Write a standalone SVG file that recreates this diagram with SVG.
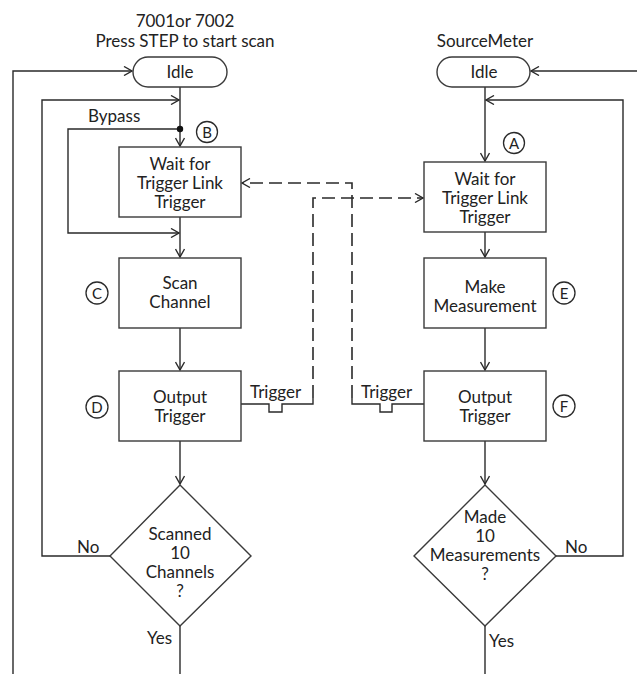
<svg xmlns="http://www.w3.org/2000/svg" width="637" height="674" viewBox="0 0 637 674">
<style>
.bg{fill:#ffffff}
.shape{fill:#ffffff;stroke:#3a3a3a;stroke-width:1.4}
.ln{fill:none;stroke:#2a2a2a;stroke-width:1.4}
.dash{fill:none;stroke:#2a2a2a;stroke-width:1.6;stroke-dasharray:13 6}
.t{font-family:Lato,"Open Sans","Liberation Sans",sans-serif;font-size:17px;fill:#222;text-anchor:middle}
.s{font-family:Lato,"Open Sans","Liberation Sans",sans-serif;font-size:17px;fill:#222}
.c{fill:#ffffff;stroke:#2a2a2a;stroke-width:1.3}
.cl{font-family:Lato,"Open Sans","Liberation Sans",sans-serif;font-size:15px;fill:#222;text-anchor:middle}
</style>
<defs>
<marker id="ar" viewBox="0 0 10 10" markerWidth="10" markerHeight="10" refX="9" refY="5" orient="auto" markerUnits="userSpaceOnUse">
<path d="M1,0.5 L9,5 L1,9.5" fill="none" stroke="#2a2a2a" stroke-width="1.4"/>
</marker>
</defs>
<rect class="bg" x="0" y="0" width="637" height="674"/>

<g id="connectors">
<path class="ln" d="M13,674 V71 H132" marker-end="url(#ar)"/>
<path class="ln" d="M180,87 V146" marker-end="url(#ar)"/>
<path class="ln" d="M110,556 H42 V100 H179" marker-end="url(#ar)"/>
<path class="ln" d="M180,129 H68 V233 H179" marker-end="url(#ar)"/>
<circle cx="180" cy="129" r="3.2" fill="#111"/>
<path class="ln" d="M180,217 V257" marker-end="url(#ar)"/>
<path class="ln" d="M180,328 V370" marker-end="url(#ar)"/>
<path class="ln" d="M180,441 V484" marker-end="url(#ar)"/>
<path class="ln" d="M180,626 V674"/>
<path class="ln" d="M637,71 H531" marker-end="url(#ar)"/>
<path class="ln" d="M485,87 V161" marker-end="url(#ar)"/>
<path class="ln" d="M556,556 H623 V100 H486" marker-end="url(#ar)"/>
<path class="ln" d="M485,232 V257" marker-end="url(#ar)"/>
<path class="ln" d="M485,328 V370" marker-end="url(#ar)"/>
<path class="ln" d="M485,441 V484" marker-end="url(#ar)"/>
<path class="ln" d="M485,626 V674"/>
<path class="ln" d="M241,404 H269 V412 H282 V404 H313 V398"/>
<path class="dash" d="M313,398 V198 H423" marker-end="url(#ar)"/>
<path class="ln" d="M424,404 H392 V412 H380 V404 H352 V398"/>
<path class="dash" d="M352,398 V183 H242" marker-end="url(#ar)"/>
<text class="s" x="250" y="398">Trigger</text>
<text class="s" x="361" y="398">Trigger</text>
</g>

<g id="title-left">
<text class="t" x="185" y="27">7001or 7002</text>
<text class="t" x="185" y="47">Press STEP to start scan</text>
</g>
<g id="title-right">
<text class="t" x="485" y="47">SourceMeter</text>
</g>

<g id="idle-left">
<rect class="shape" x="133" y="57" width="94" height="30" rx="15" ry="15"/>
<text class="t" x="180" y="78">Idle</text>
</g>
<g id="idle-right">
<rect class="shape" x="437" y="57" width="93" height="30" rx="15" ry="15"/>
<text class="t" x="484" y="78">Idle</text>
</g>

<g id="label-bypass">
<text class="s" x="88" y="122">Bypass</text>
</g>

<g id="marker-b">
<circle class="c" cx="207" cy="132" r="10.5"/>
<text class="cl" x="207" y="137.5">B</text>
</g>
<g id="marker-a">
<circle class="c" cx="514" cy="143" r="10.5"/>
<text class="cl" x="514" y="148.5">A</text>
</g>
<g id="marker-c">
<circle class="c" cx="97" cy="293" r="11"/>
<text class="cl" x="97" y="298.5">C</text>
</g>
<g id="marker-d">
<circle class="c" cx="97" cy="407" r="11"/>
<text class="cl" x="97" y="412.5">D</text>
</g>
<g id="marker-e">
<circle class="c" cx="564" cy="293" r="11"/>
<text class="cl" x="564" y="298.5">E</text>
</g>
<g id="marker-f">
<circle class="c" cx="564" cy="406" r="11"/>
<text class="cl" x="564" y="411.5">F</text>
</g>

<g id="wait-left">
<rect class="shape" x="119" y="147" width="122" height="70"/>
<text class="t" x="180" y="170">Wait for</text>
<text class="t" x="180" y="189">Trigger Link</text>
<text class="t" x="180" y="208">Trigger</text>
</g>
<g id="scan-channel">
<rect class="shape" x="119" y="258" width="122" height="70"/>
<text class="t" x="180" y="289">Scan</text>
<text class="t" x="180" y="308">Channel</text>
</g>
<g id="output-left">
<rect class="shape" x="119" y="371" width="122" height="70"/>
<text class="t" x="180" y="403">Output</text>
<text class="t" x="180" y="422">Trigger</text>
</g>
<g id="decision-left">
<polygon class="shape" points="180,485 251,556 180,626 110,556"/>
<text class="t" x="180" y="540">Scanned</text>
<text class="t" x="180" y="559">10</text>
<text class="t" x="180" y="578">Channels</text>
<text class="t" x="180" y="597">?</text>
<text class="s" x="77" y="553">No</text>
<text class="s" x="147" y="644">Yes</text>
</g>

<g id="wait-right">
<rect class="shape" x="424" y="162" width="122" height="70"/>
<text class="t" x="485" y="185">Wait for</text>
<text class="t" x="485" y="204">Trigger Link</text>
<text class="t" x="485" y="223">Trigger</text>
</g>
<g id="make-measurement">
<rect class="shape" x="424" y="258" width="122" height="70"/>
<text class="t" x="485" y="293">Make</text>
<text class="t" x="485" y="312">Measurement</text>
</g>
<g id="output-right">
<rect class="shape" x="424" y="371" width="122" height="70"/>
<text class="t" x="485" y="403">Output</text>
<text class="t" x="485" y="422">Trigger</text>
</g>
<g id="decision-right">
<polygon class="shape" points="485,485 556,556 485,626 414,556"/>
<text class="t" x="485" y="523">Made</text>
<text class="t" x="485" y="542">10</text>
<text class="t" x="485" y="561">Measurements</text>
<text class="t" x="485" y="580">?</text>
<text class="s" x="565" y="553">No</text>
<text class="s" x="489" y="647">Yes</text>
</g>
</svg>
